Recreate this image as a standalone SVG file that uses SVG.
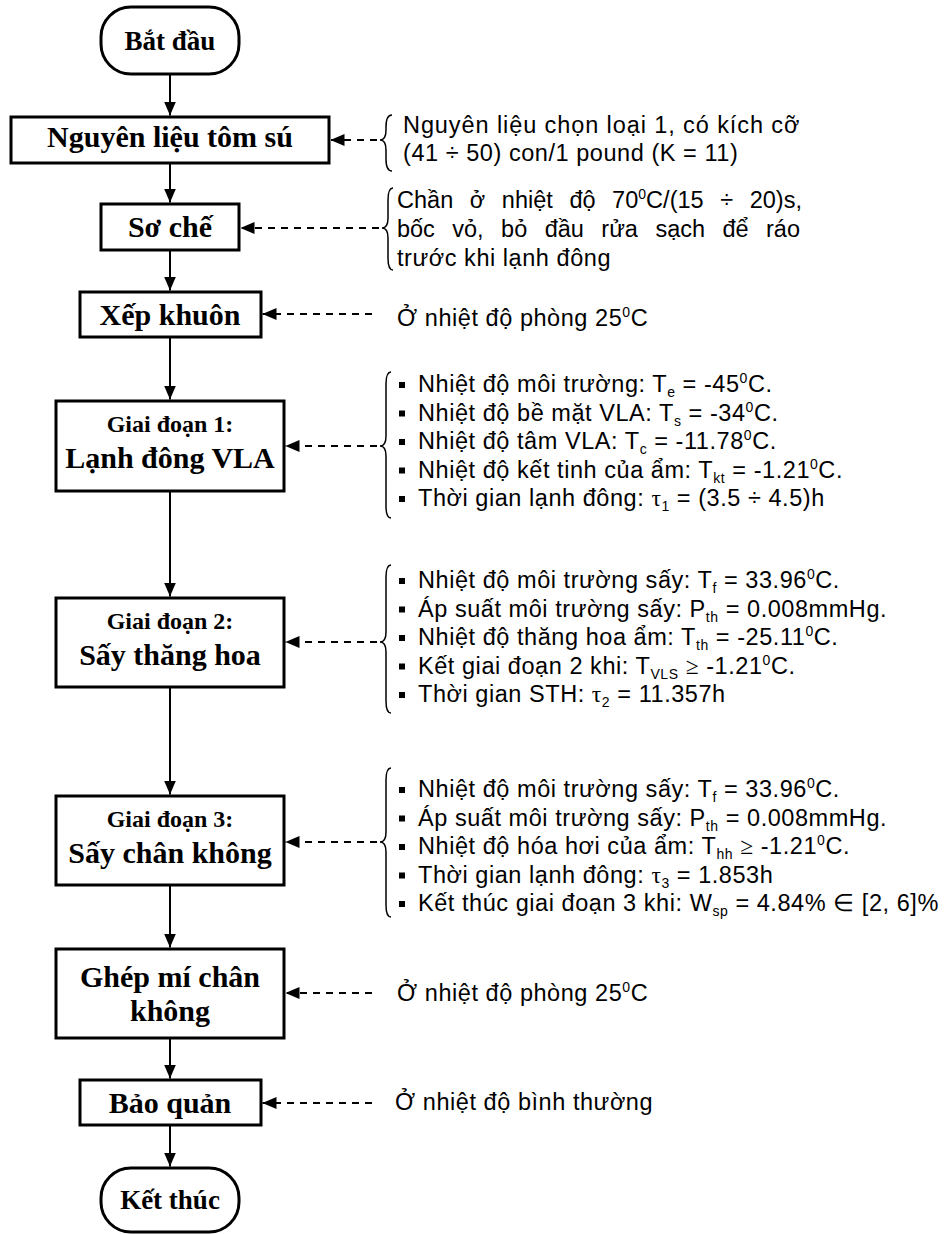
<svg xmlns="http://www.w3.org/2000/svg" width="946" height="1234" viewBox="0 0 946 1234">
<style>
.box{fill:#fff;stroke:#000;stroke-width:3}
.flow{stroke:#000;stroke-width:2;fill:none;marker-end:url(#ah)}
.dash{stroke:#000;stroke-width:1.8;stroke-dasharray:7 6;fill:none;marker-end:url(#ah)}
.brace{stroke:#000;stroke-width:1.5;fill:none}
.lbl{font-family:"Liberation Serif","Times New Roman",serif;font-weight:bold;font-size:30px;text-anchor:middle;fill:#000}
.term{font-size:27px}
.lbs{font-size:24px}
.ann{font-family:"Liberation Sans",Arial,sans-serif;font-size:23.5px;letter-spacing:0.55px;fill:#000}
.s{font-size:14px}
.g{font-family:"Liberation Serif","Times New Roman",serif}
.bul{fill:#000}
</style>
<defs>
<marker id="ah" viewBox="0 0 14 12" refX="14" refY="6" markerWidth="14" markerHeight="12" markerUnits="userSpaceOnUse" orient="auto">
<path d="M0,0 L14,6 L0,12 z" fill="#000"/>
</marker>
</defs>
<rect width="946" height="1234" fill="#fff"/>

<g id="connectors">
<path class="flow" d="M170,74 L170,115.5"/>
<path class="flow" d="M170,163 L170,202.5"/>
<path class="flow" d="M170,250 L170,290.5"/>
<path class="flow" d="M170,337 L170,399.5"/>
<path class="flow" d="M170,491 L170,596.5"/>
<path class="flow" d="M170,687 L170,794.5"/>
<path class="flow" d="M170,885 L170,947.5"/>
<path class="flow" d="M170,1038 L170,1078.5"/>
<path class="flow" d="M170,1125 L170,1166.5"/>
<path class="dash" d="M377,140 L330.5,140"/>
<path class="dash" d="M379,228 L240.5,228"/>
<path class="dash" d="M372,314 L262.5,314"/>
<path class="dash" d="M377,446 L285.5,446"/>
<path class="dash" d="M377,642 L285.5,642"/>
<path class="dash" d="M377,842 L285.5,842"/>
<path class="dash" d="M372,993 L285.5,993"/>
<path class="dash" d="M372,1103 L262.5,1103"/>
</g>

<g id="n-start">
<rect class="box" x="101" y="7" width="138" height="67" rx="30" ry="30"/>
<text class="lbl term" x="170" y="50">Bắt đầu</text>
</g>
<g id="n-nguyenlieu">
<rect class="box" x="11" y="117" width="318" height="46"/>
<text class="lbl" x="170" y="147">Nguyên liệu tôm sú</text>
</g>
<g id="n-soche">
<rect class="box" x="101" y="204" width="138" height="46"/>
<text class="lbl" x="170" y="237">Sơ chế</text>
</g>
<g id="n-xepkhuon">
<rect class="box" x="80" y="292" width="181" height="45"/>
<text class="lbl" x="170" y="325">Xếp khuôn</text>
</g>
<g id="n-gd1">
<rect class="box" x="56" y="401" width="228" height="90"/>
<text class="lbl lbs" x="170" y="432">Giai đoạn 1:</text>
<text class="lbl" x="170" y="468">Lạnh đông VLA</text>
</g>
<g id="n-gd2">
<rect class="box" x="56" y="598" width="228" height="89"/>
<text class="lbl lbs" x="170" y="629">Giai đoạn 2:</text>
<text class="lbl" x="170" y="665">Sấy thăng hoa</text>
</g>
<g id="n-gd3">
<rect class="box" x="56" y="796" width="228" height="89"/>
<text class="lbl lbs" x="170" y="827">Giai đoạn 3:</text>
<text class="lbl" x="170" y="863">Sấy chân không</text>
</g>
<g id="n-ghepmi">
<rect class="box" x="56" y="949" width="228" height="89"/>
<text class="lbl" x="170" y="987">Ghép mí chân</text>
<text class="lbl" x="170" y="1021">không</text>
</g>
<g id="n-baoquan">
<rect class="box" x="80" y="1080" width="181" height="45"/>
<text class="lbl" x="170" y="1113">Bảo quản</text>
</g>
<g id="n-end">
<rect class="box" x="101" y="1168" width="138" height="64" rx="30" ry="30"/>
<text class="lbl term" x="170" y="1209">Kết thúc</text>
</g>

<g id="a-nguyenlieu">
<path class="brace" d="M392 115 Q386 115 386 127 L386 130 Q386 140 380 140 Q386 140 386 150 L386 159 Q386 171 392 171"/>
<text class="ann" x="403" y="133" textLength="397" lengthAdjust="spacing">Nguyên liệu chọn loại 1, có kích cỡ</text>
<text class="ann" x="403" y="161">(41 ÷ 50) con/1 pound (K = 11)</text>
</g>
<g id="a-soche">
<path class="brace" d="M393 188 Q388 188 388 200 L388 218 Q388 228 382 228 Q388 228 388 238 L388 258 Q388 270 393 270"/>
<text class="ann" x="397" y="208" style="letter-spacing:0;word-spacing:10px" textLength="405" lengthAdjust="spacing">Chần ở nhiệt độ 70<tspan class="s" dy="-9">0</tspan><tspan dy="9">C/(15 ÷ 20)s,</tspan></text>
<text class="ann" x="397" y="237" style="letter-spacing:0;word-spacing:11px" textLength="403" lengthAdjust="spacing">bốc vỏ, bỏ đầu rửa sạch để ráo</text>
<text class="ann" x="397" y="266">trước khi lạnh đông</text>
</g>
<g id="a-xepkhuon">
<text class="ann" x="397" y="326">Ở nhiệt độ phòng 25<tspan class="s" dy="-9">0</tspan><tspan dy="9">C</tspan></text>
</g>
<g id="a-gd1">
<path class="brace" d="M391 372 Q386 372 386 384 L386 436 Q386 446 380 446 Q386 446 386 456 L386 506 Q386 518 391 518"/>
<rect class="bul" x="399" y="382" width="6" height="6"/>
<rect class="bul" x="399" y="410.5" width="6" height="6"/>
<rect class="bul" x="399" y="439" width="6" height="6"/>
<rect class="bul" x="399" y="467.5" width="6" height="6"/>
<rect class="bul" x="399" y="496" width="6" height="6"/>
<text class="ann" x="418" y="392">Nhiệt độ môi trường: T<tspan class="s" dy="5">e</tspan><tspan dy="-5"> = -45</tspan><tspan class="s" dy="-9">0</tspan><tspan dy="9">C.</tspan></text>
<text class="ann" x="418" y="420.5">Nhiệt độ bề mặt VLA: T<tspan class="s" dy="5">s</tspan><tspan dy="-5"> = -34</tspan><tspan class="s" dy="-9">0</tspan><tspan dy="9">C.</tspan></text>
<text class="ann" x="418" y="449">Nhiệt độ tâm VLA: T<tspan class="s" dy="5">c</tspan><tspan dy="-5"> = -11.78</tspan><tspan class="s" dy="-9">0</tspan><tspan dy="9">C.</tspan></text>
<text class="ann" x="418" y="477.5">Nhiệt độ kết tinh của ẩm: T<tspan class="s" dy="5">kt</tspan><tspan dy="-5"> = -1.21</tspan><tspan class="s" dy="-9">0</tspan><tspan dy="9">C.</tspan></text>
<text class="ann" x="418" y="506">Thời gian lạnh đông: <tspan class="g">τ</tspan><tspan class="s" dy="5">1</tspan><tspan dy="-5"> = (3.5 ÷ 4.5)h</tspan></text>
</g>
<g id="a-gd2">
<path class="brace" d="M391 565 Q386 565 386 577 L386 632 Q386 642 380 642 Q386 642 386 652 L386 701 Q386 713 391 713"/>
<rect class="bul" x="399" y="578" width="6" height="6"/>
<rect class="bul" x="399" y="606.5" width="6" height="6"/>
<rect class="bul" x="399" y="635" width="6" height="6"/>
<rect class="bul" x="399" y="663.5" width="6" height="6"/>
<rect class="bul" x="399" y="692" width="6" height="6"/>
<text class="ann" x="418" y="588">Nhiệt độ môi trường sấy: T<tspan class="s" dy="5">f</tspan><tspan dy="-5"> = 33.96</tspan><tspan class="s" dy="-9">0</tspan><tspan dy="9">C.</tspan></text>
<text class="ann" x="418" y="616.5">Áp suất môi trường sấy: P<tspan class="s" dy="5">th</tspan><tspan dy="-5"> = 0.008mmHg.</tspan></text>
<text class="ann" x="418" y="645">Nhiệt độ thăng hoa ẩm: T<tspan class="s" dy="5">th</tspan><tspan dy="-5"> =  -25.11</tspan><tspan class="s" dy="-9">0</tspan><tspan dy="9">C.</tspan></text>
<text class="ann" x="418" y="673.5">Kết giai đoạn 2 khi: T<tspan class="s" dy="5">VLS</tspan><tspan dy="-5"> </tspan><tspan class="g">≥</tspan><tspan>  -1.21</tspan><tspan class="s" dy="-9">0</tspan><tspan dy="9">C.</tspan></text>
<text class="ann" x="418" y="702">Thời gian STH: <tspan class="g">τ</tspan><tspan class="s" dy="5">2</tspan><tspan dy="-5"> = 11.357h</tspan></text>
</g>
<g id="a-gd3">
<path class="brace" d="M391 768 Q386 768 386 780 L386 832 Q386 842 380 842 Q386 842 386 852 L386 905 Q386 917 391 917"/>
<rect class="bul" x="399" y="787" width="6" height="6"/>
<rect class="bul" x="399" y="815.5" width="6" height="6"/>
<rect class="bul" x="399" y="844" width="6" height="6"/>
<rect class="bul" x="399" y="872.5" width="6" height="6"/>
<rect class="bul" x="399" y="901" width="6" height="6"/>
<text class="ann" x="418" y="797">Nhiệt độ môi trường sấy: T<tspan class="s" dy="5">f</tspan><tspan dy="-5"> = 33.96</tspan><tspan class="s" dy="-9">0</tspan><tspan dy="9">C.</tspan></text>
<text class="ann" x="418" y="825.5">Áp suất môi trường sấy: P<tspan class="s" dy="5">th</tspan><tspan dy="-5"> = 0.008mmHg.</tspan></text>
<text class="ann" x="418" y="854">Nhiệt độ hóa hơi của ẩm: T<tspan class="s" dy="5">hh</tspan><tspan dy="-5"> </tspan><tspan class="g">≥</tspan><tspan> -1.21</tspan><tspan class="s" dy="-9">0</tspan><tspan dy="9">C.</tspan></text>
<text class="ann" x="418" y="882.5">Thời gian lạnh đông: <tspan class="g">τ</tspan><tspan class="s" dy="5">3</tspan><tspan dy="-5"> = 1.853h</tspan></text>
<text class="ann" x="418" y="911">Kết thúc giai đoạn 3 khi: W<tspan class="s" dy="5">sp</tspan><tspan dy="-5"> = 4.84% </tspan><tspan class="g">∈</tspan><tspan> [2, 6]%</tspan></text>
</g>
<g id="a-ghepmi">
<text class="ann" x="397" y="1001">Ở nhiệt độ phòng 25<tspan class="s" dy="-9">0</tspan><tspan dy="9">C</tspan></text>
</g>
<g id="a-baoquan">
<text class="ann" x="395" y="1110">Ở nhiệt độ bình thường</text>
</g>
</svg>
